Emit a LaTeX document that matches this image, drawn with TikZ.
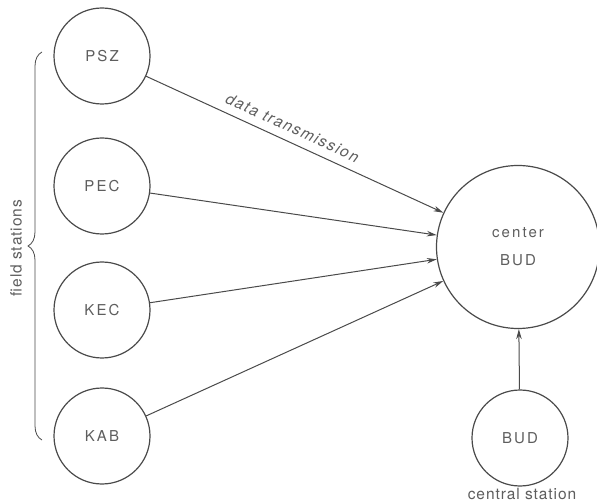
\documentclass[tikz,border=0pt]{standalone}
\usepackage{fontspec}
\setmainfont{TeX Gyre Heros}
\newfontfamily\stationfont[LetterSpace=14]{TeX Gyre Heros}
\newfontfamily\notefont[LetterSpace=6]{TeX Gyre Heros}
\newfontfamily\slantfont[LetterSpace=10,FakeSlant=0.2]{TeX Gyre Heros}
\usetikzlibrary{arrows.meta,decorations.pathreplacing}

\definecolor{ink}{HTML}{4A4A4A}
\definecolor{textink}{HTML}{5E5E5E}

\tikzset{
  station/.style={circle, draw=ink, line width=1.2pt, minimum size=96pt,
    inner sep=0pt, text=textink, font=\stationfont\fontsize{15}{18}\selectfont},
  hub/.style={station, minimum size=163pt, align=center},
  link/.style={draw=ink, line width=1pt, -{Stealth[length=10pt,width=5.5pt]}},
  note/.style={text=textink, font=\notefont\fontsize{14}{16}\selectfont, inner sep=1pt},
}

\begin{document}
\begin{tikzpicture}[x=1pt,y=-1pt]
  \useasboundingbox[fill=white] (0,0) rectangle (597,502);

  % field stations
  \node[station] (psz) at (102,56)  {PSZ};
  \node[station] (pec) at (102,186) {PEC};
  \node[station] (kec) at (102,310) {KEC};
  \node[station] (kab) at (102,436) {KAB};

  % center and central station
  \node[hub] (ctr) at (518,247) {center\\[10pt]BUD};
  \node[station] (bud) at (520,438) {BUD};
  \node[note, font=\notefont\fontsize{15.5}{17}\selectfont] (budlbl) at (522,494) {central station};

  % data links into the center
  \draw[link] (psz) -- node[note, sloped, above=7pt, pos=0.47,
      font=\slantfont\fontsize{15.5}{17}\selectfont] (dt) {data transmission} (ctr);
  \draw[link] (pec) -- (ctr);
  \draw[link] (kec) -- (ctr);
  \draw[link] (kab) -- (ctr);
  \draw[link] (bud) -- (ctr);

  % brace grouping the field stations
  \draw[ink, line width=0.8pt, decorate, decoration={brace, amplitude=14pt}]
    (42,440) -- (42,52);
  \node[note, rotate=90, font=\notefont\fontsize{15.5}{17}\selectfont] (fs) at (16,248) {field stations};
\end{tikzpicture}
\end{document}
